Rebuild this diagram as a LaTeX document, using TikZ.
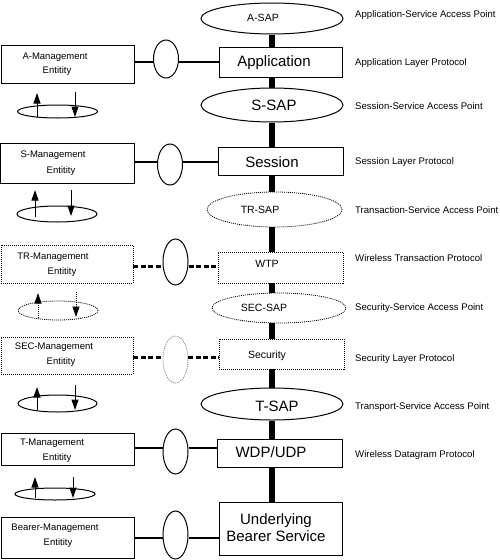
\documentclass[tikz,border=0pt]{standalone}
\usepackage{fontspec}
\setmainfont{Liberation Sans}
\usetikzlibrary{arrows.meta,shapes.geometric}
\begin{document}
\begin{tikzpicture}[x=1pt,y=-1pt,
 pbox/.style={draw,line width=1pt,minimum width=124pt,minimum height=30pt,inner sep=0pt},
 dbox/.style={pbox,dash pattern=on 1pt off 1pt,line width=0.8pt},
 sap/.style={draw,ellipse,line width=1pt,minimum width=142pt,minimum height=32pt,inner sep=0pt},
 dsap/.style={sap,dash pattern=on 1pt off 1pt,line width=0.8pt},
 mbox/.style={draw,line width=1pt,minimum width=133pt,minimum height=38pt,inner sep=0pt},
 dmbox/.style={mbox,dash pattern=on 1pt off 1pt,line width=0.8pt},
 conn/.style={draw,ellipse,line width=1pt,minimum width=25pt,minimum height=40pt,inner sep=0pt},
 ring/.style={draw,ellipse,line width=1pt,minimum width=80pt,minimum height=16pt,inner sep=0pt},
 big/.style={font=\fontsize{15}{17}\selectfont,inner sep=0pt},
 mid/.style={font=\fontsize{10.5}{12}\selectfont,inner sep=0pt},
 lbl/.style={font=\fontsize{9.6}{11}\selectfont,anchor=west,inner sep=0pt},
 mtxt/.style={font=\fontsize{9.5}{11}\selectfont,inner sep=0pt},
 bar/.style={line width=6pt},
 hl/.style={line width=2.2pt},
 dl/.style={line width=3pt,dash pattern=on 5pt off 2.5pt},
 arr/.style={line width=1pt,-{Triangle[length=10.5pt,width=7pt]}},
 darr/.style={arr,dash pattern=on 1pt off 1pt},
]
\useasboundingbox (0,0) rectangle (500,560);
\coordinate (col) at (272,0);

% ---- central column ----
\node[sap,minimum height=31pt] (asap) at (272,18.5) {};
\node[mid] (asapT) at (263,18) {A-SAP};
\node[pbox,minimum width=123pt] (app) at (280.5,62) {};
\node[big] (appT) at (274,63) {Application};
\node[sap,minimum height=34pt] (ssap) at (272,105) {};
\node[big] (ssapT) at (274,105) {S-SAP};
\node[pbox,minimum width=125pt,minimum height=28pt] (sess) at (280.5,161) {};
\node[big] (sessT) at (272,162) {Session};
\node[dsap,minimum width=135pt,minimum height=35pt] (trsap) at (274.5,209.5) {};
\node[mid] (trsapT) at (260,210) {TR-SAP};
\node[dbox,minimum width=125pt,minimum height=31pt] (wtp) at (280.5,267.5) {};
\node[mid] (wtpT) at (267,264) {WTP};
\node[dsap,minimum width=134pt,minimum height=30pt] (secsap) at (279,308) {};
\node[mid] (secsapT) at (264,308) {SEC-SAP};
\node[dbox,minimum width=125pt,minimum height=30pt] (sec) at (281.5,354) {};
\node[mid] (secT) at (267,356) {Security};
\node[sap,minimum height=32pt] (tsap) at (272,404) {};
\node[big] (tsapT) at (277,406) {T-SAP};
\node[pbox,minimum width=125pt,minimum height=28pt] (wdp) at (279.5,453) {};
\node[big] (wdpT) at (271,452) {WDP/UDP};
\node[pbox,minimum width=123pt,minimum height=53pt] (ubs) at (280.5,529) {};
\node[big,align=center] (ubsT) at (276,528) {Underlying\\Bearer Service};

\draw[bar] (col |- asap.south) -- (col |- app.north);
\draw[bar] (col |- app.south) -- (col |- ssap.north);
\draw[bar] (col |- ssap.south) -- (col |- sess.north);
\draw[bar] (col |- sess.south) -- (col |- trsap.north);
\draw[bar] (col |- trsap.south) -- (col |- wtp.north);
\draw[bar] (col |- wtp.south) -- (col |- secsap.north);
\draw[bar] (col |- secsap.south) -- (col |- sec.north);
\draw[bar] (col |- sec.south) -- (col |- tsap.north);
\draw[bar] (col |- tsap.south) -- (col |- wdp.north);
\draw[bar] (col |- wdp.south) -- (col |- ubs.north);

% ---- right labels ----
\node[lbl] (l1) at (355,15) {Application-Service Access Point};
\node[lbl] (l2) at (355,63) {Application Layer Protocol};
\node[lbl] (l3) at (355,106) {Session-Service Access Point};
\node[lbl] (l4) at (355,162) {Session Layer Protocol};
\node[lbl] (l5) at (355,210) {Transaction-Service Access Point};
\node[lbl] (l6) at (355,258) {Wireless Transaction Protocol};
\node[lbl] (l7) at (355,308) {Security-Service Access Point};
\node[lbl] (l8) at (355,359) {Security Layer Protocol};
\node[lbl] (l9) at (355,407) {Transport-Service Access Point};
\node[lbl] (l10) at (355,455) {Wireless Datagram Protocol};

% ---- A management ----
\node[mbox] (amg) at (67.5,64) {};
\node[mtxt] (amg1) at (55,57) {A-Management};
\node[mtxt] (amg2) at (57,71) {Entitity};
\node[conn,minimum height=38pt] (aconn) at (166,59) {};
\coordinate (ya) at (0,62);
\draw[hl] (amg.east |- ya) -- (aconn.west |- ya);
\draw[hl] (aconn.east |- ya) -- (app.west |- ya);
\node[ring,minimum width=80pt,minimum height=13pt] (aring) at (57.5,111.5) {};
\coordinate (au1) at (37,117); \coordinate (au2) at (37,93);
\coordinate (ad1) at (75,92); \coordinate (ad2) at (75,117);
\draw[arr] (au1) -- (au2);
\draw[arr] (ad1) -- (ad2);

% ---- S management ----
\node[mbox,minimum width=134pt,minimum height=40pt] (smg) at (67,163) {};
\node[mtxt] (smg1) at (53,155) {S-Management};
\node[mtxt] (smg2) at (61,171) {Entitity};
\node[conn,minimum height=41pt] (sconn) at (170,164.5) {};
\coordinate (ys) at (0,162);
\draw[hl] (smg.east |- ys) -- (sconn.west |- ys);
\draw[hl] (sconn.east |- ys) -- (sess.west |- ys);
\node[ring] (sring) at (57,214) {};
\coordinate (su1) at (35,217); \coordinate (su2) at (35,190);
\coordinate (sd1) at (71,190); \coordinate (sd2) at (71,216);
\draw[arr] (su1) -- (su2);
\draw[arr] (sd1) -- (sd2);

% ---- TR management ----
\node[dmbox,minimum width=132pt] (trmg) at (67,264) {};
\node[mtxt] (trmg1) at (53,257) {TR-Management};
\node[mtxt] (trmg2) at (62,272) {Entitity};
\node[conn,minimum height=46pt] (trconn) at (175.5,262) {};
\coordinate (ytr) at (0,266);
\draw[dl] (trmg.east |- ytr) -- (trconn.west |- ytr);
\draw[dl] (trconn.east |- ytr) -- (wtp.west |- ytr);
\node[ring,dash pattern=on 1pt off 1pt,line width=0.8pt,minimum height=19pt] (trring) at (58,310.5) {};
\coordinate (tru1) at (38,318); \coordinate (tru2) at (38,293);
\coordinate (trd1) at (76,292); \coordinate (trd2) at (76,317);
\draw[darr] (tru1) -- (tru2);
\draw[darr] (trd1) -- (trd2);

% ---- SEC management ----
\node[dmbox,minimum width=132pt,minimum height=37pt] (secmg) at (67,355.5) {};
\node[mtxt] (secmg1) at (54,347) {SEC-Management};
\node[mtxt] (secmg2) at (61,362) {Entitity};
\node[conn,minimum height=47pt,draw=gray,dash pattern=on 1pt off 1pt,line width=0.8pt] (secconn) at (175.5,359.5) {};
\coordinate (ysec) at (0,357);
\draw[dl] (secmg.east |- ysec) -- (secconn.west |- ysec);
\draw[dl] (secconn.east |- ysec) -- (sec.west |- ysec);
\node[ring,minimum width=79pt,minimum height=17pt] (secring) at (57.5,403.5) {};
\coordinate (secu1) at (37,410); \coordinate (secu2) at (37,387);
\coordinate (secd1) at (75,385); \coordinate (secd2) at (75,410);
\draw[arr] (secu1) -- (secu2);
\draw[arr] (secd1) -- (secd2);

% ---- T management ----
\node[mbox,minimum height=32pt] (tmg) at (67.5,449) {};
\node[mtxt] (tmg1) at (52,443) {T-Management};
\node[mtxt] (tmg2) at (57,458) {Entitity};
\node[conn,minimum height=45pt] (tconn) at (175.5,451.5) {};
\coordinate (yt) at (0,448);
\draw[hl] (tmg.east |- yt) -- (tconn.west |- yt);
\draw[hl] (tconn.east |- yt) -- (wdp.west |- yt);
\node[ring,minimum height=12pt] (tring) at (55,494) {};
\coordinate (tu1) at (35,498); \coordinate (tu2) at (35,477);
\coordinate (td1) at (73,477); \coordinate (td2) at (73,498);
\draw[arr] (tu1) -- (tu2);
\draw[arr] (td1) -- (td2);

% ---- Bearer management ----
\node[mbox,minimum height=41pt] (bmg) at (67.5,537.5) {};
\node[mtxt] (bmg1) at (55,528) {Bearer-Management};
\node[mtxt] (bmg2) at (58,543) {Entitity};
\node[conn,minimum height=48pt] (bconn) at (175.5,535) {};
\coordinate (yb) at (0,538);
\draw[hl] (bmg.east |- yb) -- (bconn.west |- yb);
\draw[hl] (bconn.east |- yb) -- (ubs.west |- yb);
\end{tikzpicture}
\end{document}
